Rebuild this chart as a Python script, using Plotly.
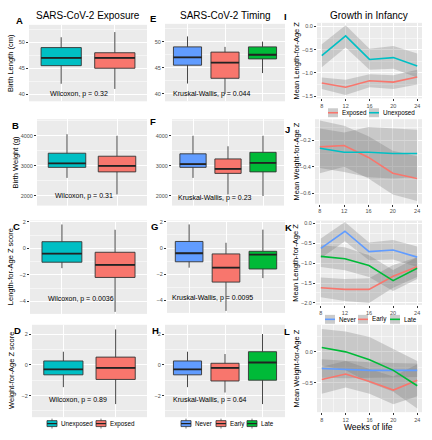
import plotly.graph_objects as go

W, H = 432, 440

# ---------------- data ----------------
exposure_groups = ["Unexposed", "Exposed"]
timing_groups = ["Never", "Early", "Late"]
weeks = [8, 12, 16, 20, 24]
exposure_line_groups = ["Exposed", "Unexposed"]

# Panel A: Birth length by exposure
A_low = [42, 41]; A_q1 = [45.5, 45]; A_med = [47, 47]; A_q3 = [49, 48]; A_up = [51, 52]
# Panel B: Birth weight by exposure
B_low = [2600, 2050]; B_q1 = [2950, 2800]; B_med = [3080, 3000]; B_q3 = [3420, 3320]; B_up = [4050, 4000]
# Panel C: LAZ by exposure
C_low = [-1.5, -4.8]; C_q1 = [-1.05, -2.2]; C_med = [-0.4, -1.25]; C_q3 = [0.5, -0.3]; C_up = [1.8, 1.4]
# Panel D: WAZ by exposure
D_low = [-1.45, -2.55]; D_q1 = [-0.65, -0.95]; D_med = [-0.3, -0.2]; D_q3 = [0.25, 0.5]; D_up = [0.85, 2.3]

# Panel E: Birth length by timing
E_low = [42, 40, 44]; E_q1 = [45.5, 43, 46.7]; E_med = [47, 46, 47.5]; E_q3 = [49, 48, 49]; E_up = [51, 49, 50]
# Panel F: Birth weight by timing
F_low = [2600, 2050, 2000]; F_q1 = [2950, 2750, 2800]; F_med = [3060, 2900, 3100]; F_q3 = [3400, 3230, 3450]; F_up = [4000, 3650, 4000]
# Panel G: LAZ by timing
G_low = [-1.5, -4.8, -2.3]; G_q1 = [-1.05, -2.6, -1.6]; G_med = [-0.4, -1.5, -0.5]; G_q3 = [0.5, -0.45, -0.25]; G_up = [1.8, 0.4, 1.4]
# Panel H: WAZ by timing
H_low = [-1.45, -1.8, -2.55]; H_q1 = [-0.65, -1.05, -1.0]; H_med = [-0.3, -0.2, 0.15]; H_q3 = [0.25, 0.1, 0.85]; H_up = [0.85, 0.7, 2.0]

p_texts = ["Wilcoxon, p = 0.32", "Wilcoxon, p = 0.31", "Wilcoxon, p = 0.0036", "Wilcoxon, p = 0.89",
           "Kruskal-Wallis, p = 0.044", "Kruskal-Wallis, p = 0.23", "Kruskal-Wallis, p = 0.0095", "Kruskal-Wallis, p = 0.64"]

# Panel I: mean LAZ by exposure
I_exposed = [-1.22, -1.31, -1.17, -1.20, -1.09]
I_exposed_hi = [-1.10, -1.15, -1.03, -1.05, -0.93]
I_exposed_lo = [-1.35, -1.48, -1.31, -1.35, -1.25]
I_unexposed = [-0.63, -0.20, -0.71, -0.67, -0.85]
I_unexposed_hi = [-0.38, 0.03, -0.48, -0.42, -0.58]
I_unexposed_lo = [-0.88, -0.45, -0.93, -0.91, -1.10]

# Panel J: mean WAZ by exposure
J_exposed = [-0.25, -0.24, -0.33, -0.45, -0.49]
J_exposed_hi = [-0.05, -0.09, -0.17, -0.28, -0.32]
J_exposed_lo = [-0.45, -0.40, -0.49, -0.61, -0.66]
J_unexposed = [-0.26, -0.29, -0.29, -0.30, -0.30]
J_unexposed_hi = [-0.11, -0.14, -0.10, -0.11, -0.12]
J_unexposed_lo = [-0.41, -0.44, -0.48, -0.49, -0.48]

# Panel K: mean LAZ by timing
K_never = [-0.63, -0.20, -0.71, -0.67, -0.85]
K_never_hi = [-0.38, 0.03, -0.48, -0.42, -0.58]
K_never_lo = [-0.88, -0.45, -0.93, -0.91, -1.10]
K_early = [-1.62, -1.66, -1.66, -1.33, -1.09]
K_early_hi = [-1.36, -1.40, -1.38, -1.05, -0.85]
K_early_lo = [-1.86, -1.95, -2.00, -1.62, -1.35]
K_late = [-0.83, -0.89, -1.06, -1.44, -1.13]
K_late_hi = [-0.55, -0.60, -0.80, -1.17, -0.85]
K_late_lo = [-1.10, -1.18, -1.35, -1.70, -1.40]

# Panel L: mean WAZ by timing
L_never = [-0.27, -0.29, -0.30, -0.30, -0.30]
L_never_hi = [-0.12, -0.15, -0.17, -0.18, -0.19]
L_never_lo = [-0.42, -0.43, -0.43, -0.42, -0.41]
L_early = [-0.45, -0.36, -0.48, -0.62, -0.46]
L_early_hi = [-0.24, -0.15, -0.28, -0.40, -0.20]
L_early_lo = [-0.68, -0.58, -0.68, -0.85, -0.72]
L_late = [0.07, 0.00, -0.13, -0.30, -0.55]
L_late_hi = [0.37, 0.33, 0.24, 0.05, -0.15]
L_late_lo = [-0.22, -0.30, -0.50, -0.65, -0.92]

colors = {"Unexposed": "#00BFC4", "Exposed": "#F8766D", "Never": "#619CFF", "Early": "#F8766D", "Late": "#00BA38"}

# ---------------- layout geometry (pixels) ----------------
geo = {
    1: (29, 147, 23, 100), 2: (37, 147, 118, 205), 3: (30, 147, 220, 314), 4: (32, 147, 325, 418),
    5: (165, 285, 22, 100), 6: (172, 284, 118, 205), 7: (167, 285, 220, 313), 8: (165, 285, 325, 418),
    9: (317, 422, 21, 97), 10: (315, 422, 118, 203), 11: (316, 422, 220, 305), 12: (317, 422, 325, 413),
}
yranges = {1: [38.6, 53.4], 2: [1680, 4550], 3: [-4.95, 2.1], 4: [-3.4, 2.6],
           5: [38.6, 53.4], 6: [1680, 4550], 7: [-4.95, 2.1], 8: [-3.4, 2.6],
           9: [-1.55, 0.08], 10: [-0.68, -0.04], 11: [-2.05, 0.07], 12: [-0.98, 0.44]}
ydticks = {1: 5, 2: 1000, 3: 2, 4: 2, 5: 5, 6: 1000, 7: 2, 8: 2, 9: 0.5, 10: 0.2, 11: 0.5, 12: 0.5}

FONT = "Liberation Sans, Arial, sans-serif"
BOX_W = 0.75
EDGE = "#333333"
fig = go.Figure()

def ax(i):
    return ("x" if i == 1 else f"x{i}"), ("y" if i == 1 else f"y{i}")

def add_boxes(i, groups, low, q1, med, q3, up):
    xa, ya = ax(i)
    for k, g in enumerate(groups):
        fig.add_trace(go.Box(
            x=[k], lowerfence=[low[k]], q1=[q1[k]], median=[med[k]], q3=[q3[k]], upperfence=[up[k]],
            name=g, fillcolor=colors[g], line=dict(color=EDGE, width=0.9), whiskerwidth=0,
            width=BOX_W, boxpoints=False, xaxis=xa, yaxis=ya, showlegend=False, hoverinfo="skip"))
    # thicker median bars (ggplot style)
    mx, my = [], []
    for k in range(len(groups)):
        mx += [k - BOX_W / 2, k + BOX_W / 2, None]
        my += [med[k], med[k], None]
    fig.add_trace(go.Scatter(x=mx, y=my, mode="lines", line=dict(color="#222222", width=1.8),
                             showlegend=False, hoverinfo="skip", xaxis=xa, yaxis=ya))

add_boxes(1, exposure_groups, A_low, A_q1, A_med, A_q3, A_up)
add_boxes(2, exposure_groups, B_low, B_q1, B_med, B_q3, B_up)
add_boxes(3, exposure_groups, C_low, C_q1, C_med, C_q3, C_up)
add_boxes(4, exposure_groups, D_low, D_q1, D_med, D_q3, D_up)
add_boxes(5, timing_groups, E_low, E_q1, E_med, E_q3, E_up)
add_boxes(6, timing_groups, F_low, F_q1, F_med, F_q3, F_up)
add_boxes(7, timing_groups, G_low, G_q1, G_med, G_q3, G_up)
add_boxes(8, timing_groups, H_low, H_q1, H_med, H_q3, H_up)

BAND = "rgba(110,110,110,0.28)"

def add_lines(i, series):
    xa, ya = ax(i)
    for name, mean, hi, lo in series:
        fig.add_trace(go.Scatter(
            x=weeks + weeks[::-1], y=hi + lo[::-1], fill="toself", fillcolor=BAND,
            line=dict(width=0), mode="lines", showlegend=False, hoverinfo="skip", xaxis=xa, yaxis=ya))
    for name, mean, hi, lo in series:
        fig.add_trace(go.Scatter(
            x=weeks, y=mean, mode="lines", line=dict(color=colors[name], width=1.6),
            name=name, showlegend=False, xaxis=xa, yaxis=ya))

add_lines(9, [("Exposed", I_exposed, I_exposed_hi, I_exposed_lo),
              ("Unexposed", I_unexposed, I_unexposed_hi, I_unexposed_lo)])
add_lines(10, [("Exposed", J_exposed, J_exposed_hi, J_exposed_lo),
               ("Unexposed", J_unexposed, J_unexposed_hi, J_unexposed_lo)])
add_lines(11, [("Never", K_never, K_never_hi, K_never_lo),
               ("Early", K_early, K_early_hi, K_early_lo),
               ("Late", K_late, K_late_hi, K_late_lo)])
add_lines(12, [("Never", L_never, L_never_hi, L_never_lo),
               ("Early", L_early, L_early_hi, L_early_lo),
               ("Late", L_late, L_late_hi, L_late_lo)])

layout = {}
tickfont = dict(size=5.5, color="#4D4D4D", family=FONT)
for i in range(1, 13):
    x0, x1, yt, yb = geo[i]
    xkey = "xaxis" if i == 1 else f"xaxis{i}"
    ykey = "yaxis" if i == 1 else f"yaxis{i}"
    xa, ya = ax(i)
    if i <= 8:
        n = 2 if i <= 4 else 3
        layout[xkey] = dict(domain=[x0 / W, x1 / W], anchor=ya, range=[-0.6, n - 0.4],
                            tick0=0, dtick=1, showticklabels=False, ticks="",
                            showgrid=True, gridcolor="white", gridwidth=1, zeroline=False)
    else:
        layout[xkey] = dict(domain=[x0 / W, x1 / W], anchor=ya, range=[7.2, 24.8],
                            tickvals=weeks, ticks="outside", ticklen=2, tickcolor=EDGE,
                            tickfont=tickfont, showgrid=True, gridcolor="white", gridwidth=1,
                            zeroline=False,
                            minor=dict(dtick=2, tick0=0, showgrid=True, gridcolor="white", gridwidth=0.5))
    d = ydticks[i]
    yax = dict(domain=[1 - yb / H, 1 - yt / H], anchor=xa, range=yranges[i], tick0=0, dtick=d,
               ticks="outside", ticklen=2, tickcolor=EDGE, tickfont=tickfont,
               showgrid=True, gridcolor="white", gridwidth=1, zeroline=False,
               minor=dict(dtick=d / 2, tick0=0, showgrid=True, gridcolor="white", gridwidth=0.5))
    if i >= 9:
        yax["tickformat"] = ".1f"
    layout[ykey] = yax

annotations = []
shapes = []

def pa(text, px, py, size, bold=False, angle=0, xanchor="center", color="black"):
    t = f"<b>{text}</b>" if bold else text
    annotations.append(dict(text=t, x=px / W, y=1 - py / H, xref="paper", yref="paper",
                            showarrow=False, xanchor=xanchor, yanchor="middle", textangle=angle,
                            borderpad=0, borderwidth=0, font=dict(size=size, color=color, family=FONT)))

# column titles
pa("SARS-CoV-2 Exposure", 88, 14, 10)
pa("SARS-CoV-2 Timing", 225, 14, 10)
pa("Growth in Infancy", 369, 14, 10)

# panel letters
letters = {"A": (19, 19), "B": (15, 124), "C": (16, 226), "D": (17, 331),
           "E": (153, 17), "F": (153, 120), "G": (154, 226), "H": (155, 331),
           "I": (285, 15), "J": (287, 128), "K": (288, 227), "L": (287, 332)}
for k, (lx, ly) in letters.items():
    pa(k, lx, ly, 9.5, bold=True)

# y axis titles
ytitles = [("Birth Length (cm)", 10, 1), ("Birth Weight (g)", 15, 2), ("Length-for-Age Z score", 10, 3),
           ("Weight-for-Age Z score", 12, 4), ("Mean Length-for-Age Z", 297, 9),
           ("Mean Weight-for-Age Z", 296, 10), ("Mean Length-for-Age Z", 296, 11),
           ("Mean Weight-for-Age Z", 296, 12)]
for t, tx, i in ytitles:
    _, _, yt, yb = geo[i]
    pa(t, tx, (yt + yb) / 2, 7.5, angle=-90)

pa("Weeks of life", 368, 428, 8.5)

# statistical test labels
p_pos = {1: (0.17, 40), 2: (0.15, 2000), 3: (0.145, -3.8), 4: (0.14, -2.3),
         5: (0.056, 40), 6: (0.045, 1920), 7: (0.03, -3.8), 8: (0.056, -2.3)}
for i in range(1, 9):
    xa, ya = ax(i)
    fx, fy = p_pos[i]
    annotations.append(dict(text=p_texts[i - 1], x=fx, y=fy, xref=f"{xa} domain", yref=ya,
                            showarrow=False, xanchor="left", yanchor="middle", borderpad=0,
                            font=dict(size=7, color="black", family=FONT)))

# ---------------- legends (ggplot-style keys) ----------------
def paper_rect(x0, x1, ytop, ybot, **kw):
    shapes.append(dict(type="rect", xref="paper", yref="paper", x0=x0 / W, x1=x1 / W,
                       y0=1 - ybot / H, y1=1 - ytop / H, **kw))

def paper_line(x0, y0, x1, y1, color, width):
    shapes.append(dict(type="line", xref="paper", yref="paper", x0=x0 / W, x1=x1 / W,
                       y0=1 - y0 / H, y1=1 - y1 / H, line=dict(color=color, width=width)))

def box_legend(groups, key_x, yc):
    for g, kx in zip(groups, key_x):
        paper_line(kx + 5, yc - 5, kx + 5, yc + 5, "#555555", 0.8)
        paper_rect(kx, kx + 10, yc - 3, yc + 3, fillcolor=colors[g], line=dict(color=EDGE, width=0.8))
        paper_line(kx, yc, kx + 10, yc, "#222222", 1.2)
        pa(g, kx + 13.5, yc, 6.3, xanchor="left")

def line_legend(groups, key_x, yc):
    for g, kx in zip(groups, key_x):
        paper_rect(kx, kx + 10, yc - 4.5, yc + 4.5, fillcolor="#CBCBCB", line=dict(width=0))
        paper_line(kx, yc, kx + 10, yc, colors[g], 1.6)
        pa(g, kx + 13.5, yc, 6.3, xanchor="left")

box_legend(exposure_groups, [47, 96], 424.5)
box_legend(timing_groups, [181, 216, 247], 424.5)
line_legend(exposure_line_groups, [328, 369], 111.5)
line_legend(timing_groups, [325, 358, 390], 319.5)

fig.update_layout(
    width=W, height=H, margin=dict(l=0, r=0, t=0, b=0),
    paper_bgcolor="white", plot_bgcolor="#EBEBEB",
    font=dict(family=FONT),
    annotations=annotations, shapes=shapes,
    boxmode="overlay", showlegend=False,
    **layout,
)

fig.write_html("out.html", config={"displayModeBar": False, "staticPlot": True},
               post_script="document.body.style.margin='0';document.body.style.overflow='hidden';")
